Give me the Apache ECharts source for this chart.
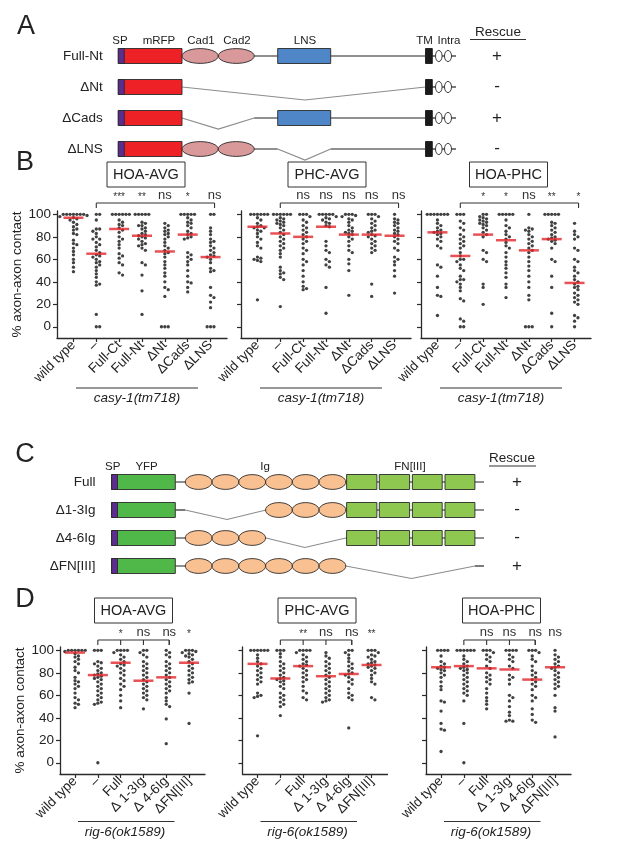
<!DOCTYPE html>
<html><head><meta charset="utf-8">
<script src="https://cdn.jsdelivr.net/npm/echarts@6/dist/echarts.min.js"></script>
<style>html,body{margin:0;padding:0;background:#fff}#c{width:617px;height:849px}</style>
</head><body><div id="c"></div>
<script>
const FONT = '"Liberation Sans", Arial, Helvetica, sans-serif';
const NARROW = '"Liberation Sans Narrow", "Liberation Sans", Arial, sans-serif';

// ---------- DATA ----------
const catsB = ['wild type', '–', 'Full-Ct', 'Full-Nt', 'ΔNt', 'ΔCads', 'ΔLNS'];
const catsD = ['wild type', '–', 'Full', 'Δ 1-3Ig', 'Δ 4-6Ig', 'ΔFN[III]'];
const yTicks = [0, 20, 40, 60, 80, 100];
const titlesB = ['HOA-AVG', 'PHC-AVG', 'HOA-PHC'];
const titlesD = ['HOA-AVG', 'PHC-AVG', 'HOA-PHC'];

const bHoaAvg = [
  [100,100,100,100,100,100,100,99,98,97,96,95,93,91,89,87,86,83,82,77,74,73,70,67,64,60,57,53,49],
  [100,100,95,87,87,85,83,80,78,78,75,73,71,68,66,64,63,62,60,58,57,55,53,50,47,44,40,38,37,11,0,0],
  [100,100,100,100,100,100,95,93,91,90,88,86,84,80,78,76,73,70,65,63,61,57,55,48,46],
  [100,100,100,100,100,93,92,90,90,88,87,85,83,82,81,80,79,78,76,74,73,72,70,68,57,55,46,32,11],
  [92,90,88,86,85,83,82,80,78,75,72,70,68,66,65,62,58,55,52,48,45,40,35,33,27,0,0,0],
  [100,100,100,100,100,97,95,93,92,90,88,85,83,82,80,79,78,66,64,62,60,58,55,50,45,40,39,35,31],
  [100,100,88,85,82,78,76,75,72,70,68,66,64,63,62,60,57,52,50,49,35,28,26,22,17,0,0,0]
];
const bPhcAvg = [
  [100,100,100,100,100,100,97,95,92,90,89,88,88,86,85,83,80,78,75,72,70,62,61,60,59,58,24],
  [100,100,100,100,100,100,97,96,95,94,93,92,91,90,88,86,84,82,80,78,76,74,72,70,68,65,62,53,50,48,47,44,42,18],
  [100,100,100,98,95,93,90,88,86,84,82,80,78,76,74,70,68,65,60,58,55,50,45,40,36,34,33],
  [100,100,100,100,100,98,97,96,95,93,92,90,89,76,72,68,66,60,58,55,53,35,12],
  [100,100,100,99,98,96,95,93,90,88,86,85,84,83,82,80,78,76,72,68,66,60,56,50,28],
  [100,100,100,98,96,94,92,90,88,86,85,84,82,81,80,78,76,74,72,70,68,66,38,27],
  [100,96,95,93,92,90,88,86,85,83,82,80,78,76,74,70,68,62,60,58,55,50,45,30]
];
const bHoaPhc = [
  [100,100,100,100,100,100,100,95,92,90,88,86,85,84,83,82,80,78,76,72,70,55,53,45,35,28,27,10],
  [100,100,100,94,92,88,86,82,80,78,76,74,72,70,66,63,60,60,58,55,52,50,45,42,42,40,38,35,32,25,23,7,5,0,0],
  [100,100,98,97,96,95,94,93,92,91,90,88,86,84,82,80,68,66,60,58,38,35,20],
  [100,100,100,100,100,95,90,88,85,82,80,78,75,72,70,66,62,58,55,52,48,44,38,35,26],
  [100,88,87,86,85,82,80,78,76,74,72,70,68,66,62,58,54,50,45,40,35,28,24,0,0,0],
  [100,100,100,100,100,93,92,90,88,86,84,82,80,79,78,77,76,74,70,60,58,45,35,12,0],
  [92,85,82,80,78,70,68,60,58,53,50,48,45,42,40,38,36,35,33,30,28,26,24,22,20,10,8,5,0]
];
const dHoaAvg = [
  [100,100,100,100,100,100,99,97,95,94,92,90,88,85,82,80,76,73,72,70,68,66,62,58,56,53,52,49],
  [100,100,100,90,89,88,86,84,82,80,79,78,77,76,75,74,72,70,68,66,64,62,60,58,56,54,53,52,0],
  [100,100,100,100,98,96,94,92,90,88,87,86,84,82,80,78,75,73,70,68,65,60,55,49],
  [100,100,98,96,94,90,88,86,84,82,80,78,76,74,72,70,68,66,64,62,60,58,56,48],
  [100,98,96,94,90,88,86,84,82,80,78,76,74,72,70,68,66,64,62,58,55,52,50,39,17],
  [100,100,100,99,98,97,96,95,94,92,90,88,86,84,82,80,78,76,74,72,71,62,35]
];
const dPhcAvg = [
  [100,100,100,100,100,100,96,93,90,88,86,84,82,80,78,76,74,72,70,62,60,59,58,24],
  [100,100,100,97,94,90,88,86,84,82,80,78,76,75,74,73,72,70,68,66,62,60,58,56,54,52,50,42],
  [100,100,100,100,98,96,94,92,90,88,87,86,84,82,80,78,76,74,72,68,64,62,58,56],
  [98,95,93,90,88,86,84,82,80,78,76,74,72,70,68,66,64,62,60,58,56,55,54],
  [100,100,98,96,93,90,88,86,84,82,80,79,78,76,74,72,70,66,62,60,58,56,31],
  [100,100,100,98,96,95,94,92,90,89,88,87,86,85,84,82,80,78,75,72,70,58,56]
];
const dHoaPhc = [
  [100,100,100,100,95,90,88,86,85,84,83,82,80,78,76,72,68,65,55,54,46,35,30,29,10],
  [100,100,100,100,100,100,95,92,90,88,86,85,84,83,82,80,78,76,74,72,70,68,66,64,62,60,55,35,0],
  [100,100,100,98,96,94,92,90,86,84,80,78,76,74,72,70,66,62,58,55,52,48],
  [100,100,100,100,96,94,92,90,86,84,78,76,74,70,60,58,55,50,45,42,38,37,37],
  [100,100,100,98,95,92,90,86,82,80,78,76,74,72,70,68,65,60,58,55,48,43,38,36],
  [100,96,94,92,90,88,86,85,84,82,80,78,76,74,72,70,68,66,60,49,46,23]
];
const bHoaAvgMean = [97, 65, 87, 81, 67, 82, 62];
const bPhcAvgMean = [89, 83, 80, 89, 82, 82, 81];
const bHoaPhcMean = [84, 63, 82, 77, 68, 78, 39];
const dHoaAvgMean = [98, 78, 89, 73, 76, 89];
const dPhcAvgMean = [88, 75, 86, 77, 79, 87];
const dHoaPhcMean = [85, 86, 84, 83, 74, 85];
const bHoaAvgSig = ['***', '**', 'ns', '*', 'ns'];
const bPhcAvgSig = ['ns', 'ns', 'ns', 'ns', 'ns'];
const bHoaPhcSig = ['*', '*', 'ns', '**', '*'];
const dHoaAvgSig = ['*', 'ns', 'ns', '*'];
const dPhcAvgSig = ['**', 'ns', 'ns', '**'];
const dHoaPhcSig = ['ns', 'ns', 'ns', 'ns'];
const strainB = 'casy-1(tm718)';
const strainD = 'rig-6(ok1589)';

// ---------- LAYOUT ----------
const YMIN = -10, YMAX = 103;
const ROW = {
  B: {top: 211, h: 127, boxTop: 162, bracket: 203, xmin: -0.72, xpad: 0.72, ulDy: 50},
  D: {top: 647, h: 127, boxTop: 598, bracket: 640, xmin: -0.66, xpad: 0.70, ulDy: 47.5}
};
const panels = [
  {vals: bHoaAvg, mean: bHoaAvgMean, sig: bHoaAvgSig, cats: catsB, title: titlesB[0], left: 57,  w: 170, row: 'B', first: true, boxDx: 4},
  {vals: bPhcAvg, mean: bPhcAvgMean, sig: bPhcAvgSig, cats: catsB, title: titlesB[1], left: 241, w: 170, row: 'B', boxDx: 1},
  {vals: bHoaPhc, mean: bHoaPhcMean, sig: bHoaPhcSig, cats: catsB, title: titlesB[2], left: 421, w: 170, row: 'B', boxDx: 2.5},
  {vals: dHoaAvg, mean: dHoaAvgMean, sig: dHoaAvgSig, cats: catsD, title: titlesD[0], left: 60,    w: 145, row: 'D', first: true, boxDx: 1},
  {vals: dPhcAvg, mean: dPhcAvgMean, sig: dPhcAvgSig, cats: catsD, title: titlesD[1], left: 242.5, w: 145, row: 'D', boxDx: 2},
  {vals: dHoaPhc, mean: dHoaPhcMean, sig: dHoaPhcSig, cats: catsD, title: titlesD[2], left: 426,   w: 145, row: 'D', boxDx: 3}
];
panels.forEach(p => { const r = ROW[p.row]; p.top = r.top; p.h = r.h; p.xmin = r.xmin; p.xmax = p.cats.length - 1 + r.xpad; });

function swarm(vals, pxY, pxX) {
  const D = 3.4, step = 1.7;
  const s = vals.slice().sort((a, b) => b - a);
  const placed = [];
  return s.map(v => {
    const y = v * pxY;
    for (let k = 0; k < 80; k++) {
      const off = k === 0 ? 0 : (k % 2 ? 1 : -1) * Math.ceil(k / 2) * step;
      let ok = true;
      for (const q of placed) { const dx = q[0] - off, dy = q[1] - y; if (dx * dx + dy * dy < D * D * 0.95) { ok = false; break; } }
      if (ok) { placed.push([off, y]); return [off / pxX, v]; }
    }
    return [0, v];
  });
}

const axisColor = '#2a2a2a';
const grid = [], xAxis = [], yAxis = [], series = [];
panels.forEach((p, i) => {
  grid.push({left: p.left, top: p.top, width: p.w, height: p.h, containLabel: false, outerBoundsMode: 'none'});
  const ticksX = p.cats.map((c, k) => k);
  xAxis.push({
    type: 'value', gridIndex: i, min: p.xmin, max: p.xmax,
    splitLine: {show: false},
    axisLine: {onZero: false, lineStyle: {color: axisColor, width: 1.3}},
    axisTick: {show: true, length: 4, customValues: ticksX, lineStyle: {color: axisColor, width: 1.2}},
    axisLabel: {customValues: ticksX, rotate: 45, margin: 5, fontSize: 13.5, fontFamily: FONT, color: '#222',
      formatter: v => p.cats[Math.round(v)]}
  });
  yAxis.push({
    type: 'value', gridIndex: i, min: YMIN, max: YMAX,
    splitLine: {show: false},
    axisLine: {show: true, onZero: false, lineStyle: {color: axisColor, width: 1.3}},
    axisTick: {show: true, length: 4, customValues: yTicks, lineStyle: {color: axisColor, width: 1.2}},
    axisLabel: {show: !!p.first, customValues: yTicks, margin: 6, fontSize: 13.5, fontFamily: FONT, color: '#222'},
    name: p.first ? '% axon-axon contact' : '', nameLocation: 'middle', nameGap: 30, nameRotate: 90,
    nameTextStyle: {fontSize: 13.5, fontFamily: FONT, color: '#222'}
  });
  const pxY = p.h / (YMAX - YMIN), pxX = p.w / (p.xmax - p.xmin);
  const pts = [];
  p.vals.forEach((col, k) => swarm(col, pxY, pxX).forEach(d => pts.push([k + d[0], d[1]])));
  series.push({type: 'scatter', xAxisIndex: i, yAxisIndex: i, data: pts, symbol: 'circle', symbolSize: 3.3,
    itemStyle: {color: '#111'}, silent: true, z: 2});
  series.push({type: 'scatter', xAxisIndex: i, yAxisIndex: i, data: p.mean.map((m, k) => [k, m]),
    symbol: 'rect', symbolSize: [20, 2.5], itemStyle: {color: '#e4252b'}, silent: true, z: 3});
});

const chart = echarts.init(document.getElementById('c'), null, {renderer: 'canvas'});
chart.setOption({animation: false, backgroundColor: '#fff', grid, xAxis, yAxis, series});

// ---------- GRAPHICS (annotations + schematics) ----------
const G = [];
const txt = (x, y, text, o) => G.push({type: 'text', x, y, z: 10, style: Object.assign({text, fill: '#222', fontSize: 13, fontFamily: FONT, align: 'center', verticalAlign: 'middle'}, o || {})});
const line = (x1, y1, x2, y2, c, w) => G.push({type: 'line', z: 5, shape: {x1, y1, x2, y2}, style: {stroke: c || '#222', lineWidth: w || 1.2}});
const poly = (pts, c, w) => G.push({type: 'polyline', z: 5, shape: {points: pts}, style: {stroke: c || '#8a8a8a', lineWidth: w || 1.2, fill: null}});
const rect = (x1, x2, yc, h, fill, stroke) => G.push({type: 'rect', z: 6, shape: {x: x1, y: yc - h / 2, width: x2 - x1, height: h}, style: {fill, stroke: stroke || '#2a2a2a', lineWidth: 0.9}});
const ell = (cx, cy, rx, ry, fill) => G.push({type: 'ellipse', z: 6, shape: {cx, cy, rx, ry}, style: {fill, stroke: '#2a2a2a', lineWidth: 0.9}});

// panel letters
txt(26, 27, 'A', {fontSize: 27});
txt(25, 163, 'B', {fontSize: 27});
txt(25, 455, 'C', {fontSize: 27});
txt(25, 600, 'D', {fontSize: 27});

// annotations for plots
panels.forEach((p, i) => {
  const r = ROW[p.row];
  const px = (x, y) => chart.convertToPixel({gridIndex: i}, [x, y]);
  const cx = p.left + p.w / 2 + p.boxDx;
  const boxTop = r.boxTop, boxH = 25, boxW = 78;
  G.push({type: 'rect', z: 5, shape: {x: cx - boxW / 2, y: boxTop, width: boxW, height: boxH}, style: {fill: '#fff', stroke: '#333', lineWidth: 1}});
  txt(cx, boxTop + boxH / 2 + 0.5, p.title, {fontSize: 14.5});
  const by = r.bracket;
  const last = p.cats.length - 1 + (p.row === 'B' ? 0 : -1);
  const x1 = px(1, 0)[0], x2 = px(last, 0)[0] + (p.row === 'B' ? 4 : 3);
  line(x1, by, x2, by, '#333', 1.1);
  const tk = p.row === 'B' ? [1, last] : [1, 2, 3, 4, last];
  tk.forEach(k => { const xx = (k === last) ? x2 : px(k, 0)[0]; line(xx, by, xx, by + 5, '#333', 1.1); });
  p.sig.forEach((s, j) => {
    const k = j + 2; let xx = px(k, 0)[0]; if (k === last) xx = x2;
    const isNs = s === 'ns';
    txt(xx, by - (isNs ? 7.5 : 6), s, {fontSize: isNs ? 13 : 10, fill: '#333'});
  });
  const axisY = p.top + p.h;
  const ul = p.row === 'B' ? [19, 141, 80] : [18, 114.5, 65];
  line(p.left + ul[0], axisY + r.ulDy, p.left + ul[1], axisY + r.ulDy, '#333', 1.2);
  txt(p.left + ul[2], axisY + r.ulDy + 10.5, p.row === 'B' ? strainB : strainD, {fontStyle: 'italic', fontSize: 13.5});
});

// ---------- Schematic A ----------
const RED = '#ee2127', PURP = '#5c2d8e', CAD = '#d9999a', LNSC = '#4f86c8', GRAY = '#8c8c8c';
const aRows = [56, 87, 118, 149];
const aLabels = ['Full-Nt', 'ΔNt', 'ΔCads', 'ΔLNS'];
const aRescue = ['+', '-', '+', '-'];
const H = 15, RY = 7.4;
const hy = 40.5;
txt(120, hy, 'SP', {fontSize: 11.5, fontFamily: NARROW});
txt(159, hy, 'mRFP', {fontSize: 11.5, fontFamily: NARROW});
txt(201, hy, 'Cad1', {fontSize: 11.5, fontFamily: NARROW});
txt(237, hy, 'Cad2', {fontSize: 11.5, fontFamily: NARROW});
txt(305, hy, 'LNS', {fontSize: 11.5, fontFamily: NARROW});
txt(424.5, hy, 'TM', {fontSize: 11.5, fontFamily: NARROW});
txt(449, hy, 'Intra', {fontSize: 11.5, fontFamily: NARROW});
txt(498, 32, 'Rescue', {fontSize: 13.5});
line(470, 39.5, 526, 39.5, '#333', 1.2);
function aRow(r) {
  const y = aRows[r];
  txt(102.8, y, aLabels[r], {align: 'right', fontSize: 13.5});
  txt(497, y + (aRescue[r] === '+' ? 0 : -0.5), aRescue[r], {fontSize: 17});
  if (r === 0) line(182, y, 425.5, y);
  if (r === 1) poly([[182, y], [305, y + 13], [425.5, y]], GRAY);
  if (r === 2) { poly([[182, y], [218.3, y + 11], [254.2, y]], GRAY); line(254.2, y, 425.5, y); }
  if (r === 3) { line(182, y, 277.7, y); poly([[277.7, y], [305, y + 11], [330.7, y]], GRAY); line(330.7, y, 425.5, y); }
  line(432, y, 456, y);
  rect(118.3, 182, y, H, RED);
  rect(118.3, 124.3, y, H, PURP);
  if (r === 0 || r === 3) { ell(200.15, y, 18.1, RY, CAD); ell(236.25, y, 18.0, RY, CAD); }
  if (r === 0 || r === 2) rect(277.7, 330.7, y, H, LNSC);
  rect(425.5, 432.3, y, H, '#1a1a1a', '#1a1a1a');
  ell(438.8, y, 3.3, 5.6, '#fff'); ell(448, y, 3.5, 5.6, '#fff');
}
[0, 1, 2, 3].forEach(aRow);

// ---------- Schematic C ----------
const GREEN = '#50b848', FNC = '#8ec850', IG = '#f9c091';
const cRows = [482, 510, 538, 566];
const cLabels = ['Full', 'Δ1-3Ig', 'Δ4-6Ig', 'ΔFN[III]'];
const cRescue = ['+', '-', '-', '+'];
const chy = 467;
txt(112.7, chy, 'SP', {fontSize: 11.5, fontFamily: NARROW});
txt(146.6, chy, 'YFP', {fontSize: 11.5, fontFamily: NARROW});
txt(265, chy, 'Ig', {fontSize: 11.5, fontFamily: NARROW});
txt(410, chy, 'FN[III]', {fontSize: 11.5, fontFamily: NARROW});
txt(512, 458.5, 'Rescue', {fontSize: 13.5});
line(489, 466, 536, 466, '#333', 1.2);
const igStart = 185.3, igEnd = 345.8, igW = (igEnd - igStart) / 6;
const fnX = [[346.6, 376.9], [379.3, 409.6], [412.4, 442.2], [445, 474.9]];
function cRow(r) {
  const y = cRows[r];
  txt(95.6, y, cLabels[r], {align: 'right', fontSize: 13.5});
  txt(517, y + (cRescue[r] === '+' ? 0 : -0.5), cRescue[r], {fontSize: 17});
  let igs = [0, 1, 2, 3, 4, 5], fn = true;
  if (r === 0) line(175.3, y, 484, y);
  if (r === 1) { igs = [3, 4, 5]; line(175.3, y, 185.3, y); poly([[185.3, y], [227, y + 9.5], [266, y]], GRAY); line(igEnd, y, 484, y); }
  if (r === 2) { igs = [0, 1, 2]; line(175.3, y, 266, y); poly([[266, y], [304.8, y + 9.5], [igEnd, y]], GRAY); line(igEnd, y, 484, y); }
  if (r === 3) { fn = false; line(175.3, y, igEnd, y); poly([[igEnd, y], [411.5, y + 12.5], [474.9, y]], GRAY); line(474.9, y, 484, y); }
  rect(111.6, 175.3, y, H, GREEN);
  rect(111.6, 117.5, y, H, PURP);
  igs.forEach(k => ell(igStart + igW * (k + 0.5), y, igW / 2, RY, IG));
  if (fn) fnX.forEach(f => rect(f[0], f[1], y, H, FNC));
}
[0, 1, 2, 3].forEach(cRow);

chart.setOption({graphic: {elements: G}});
</script>
</body></html>
